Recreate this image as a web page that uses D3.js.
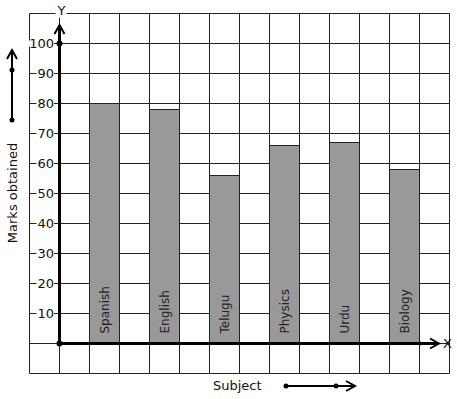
<!DOCTYPE html>
<html><head><meta charset="utf-8">
<script src="https://cdn.jsdelivr.net/npm/d3@7"></script>
<style>body{margin:0;background:#fff}svg{display:block}text{font-family:"DejaVu Sans",sans-serif}</style>
</head><body>
<svg id="c" width="457" height="399"></svg>
<script>
const subjects = ["Spanish","English","Telugu","Physics","Urdu","Biology"];
const marks = [80,78,56,66,67,58];
const yTicks = [10,20,30,40,50,60,70,80,90,100];
const yLabel = "Marks obtained";
const xLabel = "Subject";

const svg = d3.select("#c");
const x = d3.scaleLinear().domain([-1,13]).range([29.5,449.5]);
const y = d3.scaleLinear().domain([-10,110]).range([373.5,13.5]);
const ink = "#222";

// grid
const g = svg.append("g");
d3.range(-1,14).forEach(c=>{
  g.append("line").attr("x1",x(c)).attr("x2",x(c)).attr("y1",y(110)).attr("y2",y(-10))
   .attr("stroke",ink).attr("stroke-width",1);
});
d3.range(-10,111,10).forEach(v=>{
  g.append("line").attr("x1",x(-1)).attr("x2",x(13)).attr("y1",y(v)).attr("y2",y(v))
   .attr("stroke",ink).attr("stroke-width",1);
});

// bars
const barCol = i => 1 + 2*i;
svg.append("g").selectAll("rect").data(marks).join("rect")
  .attr("x",(d,i)=>x(barCol(i))).attr("width",x(1)-x(0))
  .attr("y",d=>y(d)).attr("height",d=>y(0)-y(d))
  .attr("fill","#999999").attr("stroke",ink).attr("stroke-width",1);

// bar labels
svg.append("g").selectAll("text").data(subjects).join("text")
  .attr("transform",(d,i)=>`translate(${x(barCol(i)+0.5)+4},${y(0)-10}) rotate(-90)`)
  .attr("font-size",12).attr("fill","#222").text(d=>d);

// tick labels with white background
const tg = svg.append("g");
yTicks.forEach(v=>{
  const t = tg.append("text").attr("x",54).attr("y",y(v)).attr("dy","0.36em")
    .attr("text-anchor","end").attr("font-size",13).attr("fill","#111").text(v);
  const b = t.node().getBBox();
  tg.append("rect").attr("x",b.x-1).attr("y",y(v)-3).attr("width",b.width+1).attr("height",6).attr("fill","#fff");
  t.raise();
});

// axes
const ax = svg.append("g").attr("stroke","#000").attr("fill","none");
ax.append("line").attr("x1",x(0)).attr("x2",438).attr("y1",y(0)).attr("y2",y(0)).attr("stroke-width",3);
ax.append("line").attr("x1",x(0)).attr("x2",x(0)).attr("y1",y(0)).attr("y2",25).attr("stroke-width",3);
ax.append("path").attr("d",`M${x(0)-5},34 L${x(0)},25 L${x(0)+5},34`).attr("stroke-width",2);
ax.append("path").attr("d",`M430,${y(0)-5} L439,${y(0)} L430,${y(0)+5}`).attr("stroke-width",2);
svg.append("circle").attr("cx",x(0)).attr("cy",y(0)).attr("r",3).attr("fill","#000");
svg.append("circle").attr("cx",x(0)).attr("cy",y(100)).attr("r",3).attr("fill","#000");
svg.append("circle").attr("cx",420).attr("cy",y(0)).attr("r",2).attr("fill","#000");

// axis letters
const yrect = svg.append("rect").attr("fill","#fff");
const yl = svg.append("text").attr("x",x(0)+2).attr("y",10).attr("dy","0.36em").attr("text-anchor","middle")
  .attr("font-size",13).attr("fill","#111").text("Y");
const yb = yl.node().getBBox();
yrect.attr("x",yb.x-1).attr("y",yb.y).attr("width",yb.width+2).attr("height",yb.height);
svg.append("text").attr("x",443).attr("y",y(0)).attr("dy","0.36em")
  .attr("font-size",13).attr("fill","#111").text("X");

// y label + arrow
svg.append("text").attr("transform","translate(17,193) rotate(-90)").attr("text-anchor","middle")
  .attr("font-size",13).attr("fill","#111").text(yLabel);
svg.append("line").attr("x1",12).attr("x2",12).attr("y1",120).attr("y2",50).attr("stroke","#000").attr("stroke-width",2);
svg.append("path").attr("d","M7,59 L12,50 L17,59").attr("stroke","#000").attr("stroke-width",2).attr("fill","none");
svg.append("circle").attr("cx",12).attr("cy",120).attr("r",2.5).attr("fill","#000");
svg.append("circle").attr("cx",12).attr("cy",70).attr("r",2.5).attr("fill","#000");

// x label + arrow
svg.append("text").attr("x",213).attr("y",390).attr("font-size",13).attr("fill","#111").text(xLabel);
svg.append("line").attr("x1",286).attr("x2",355).attr("y1",386).attr("y2",386).attr("stroke","#000").attr("stroke-width",2);
svg.append("path").attr("d","M346,381 L355,386 L346,391").attr("stroke","#000").attr("stroke-width",2).attr("fill","none");
svg.append("circle").attr("cx",286).attr("cy",386).attr("r",2.5).attr("fill","#000");
svg.append("circle").attr("cx",336).attr("cy",386).attr("r",2.5).attr("fill","#000");
</script>
</body></html>
